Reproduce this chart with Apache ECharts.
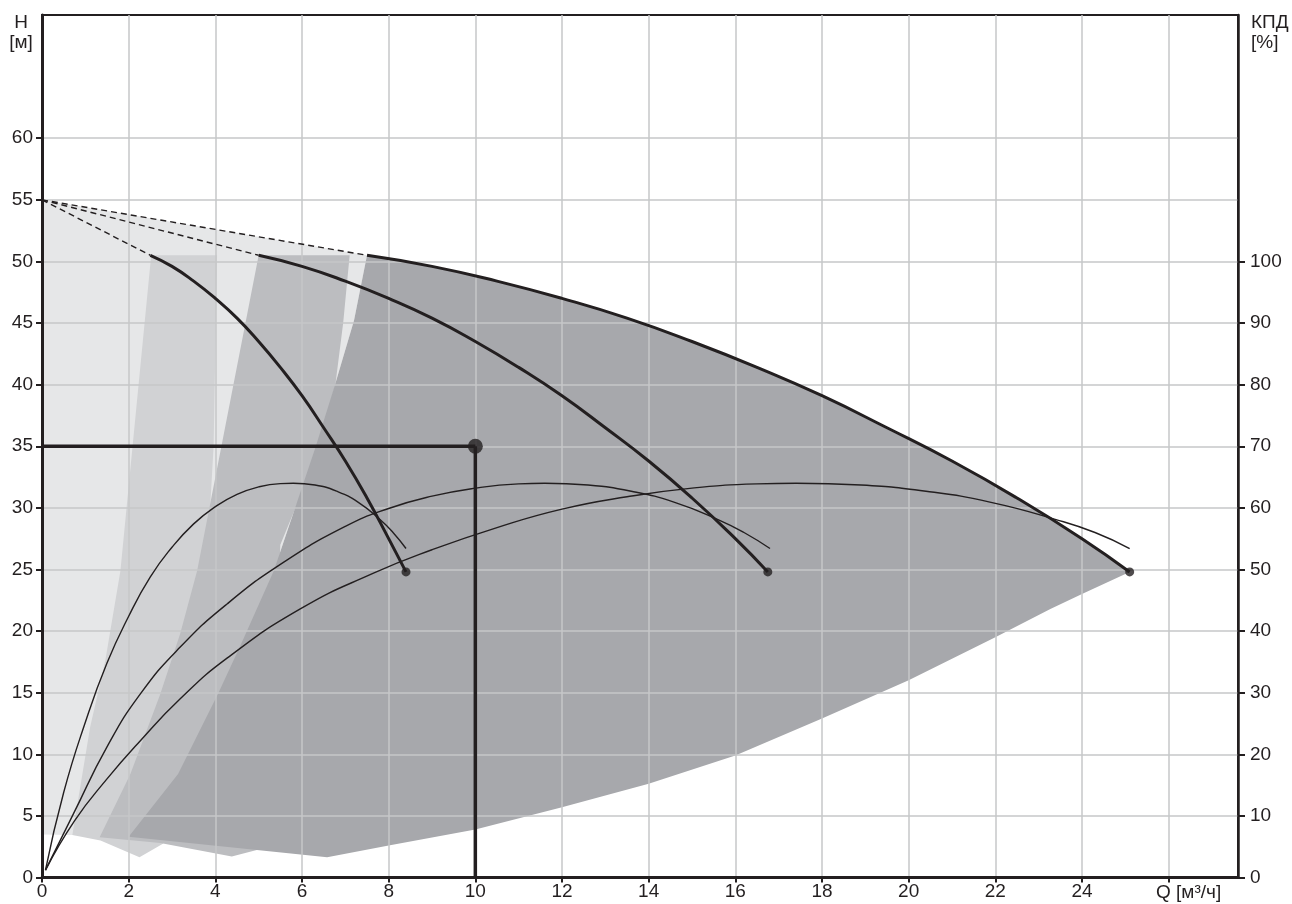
<!DOCTYPE html>
<html>
<head>
<meta charset="utf-8">
<script src="https://cdn.jsdelivr.net/npm/echarts@6/dist/echarts.min.js"></script>
<style>
  html, body { margin: 0; padding: 0; background: #fff; }
  #chart { width: 1292px; height: 904px; }
</style>
</head>
<body>
<div id="chart"></div>
<script>
var chart = echarts.init(document.getElementById('chart'));

// axis ticks
var qTicks = [0, 2, 4, 6, 8, 10, 12, 14, 16, 18, 20, 22, 24];
var qTickMarks = [0, 2, 4, 6, 8, 10, 12, 14, 16, 18, 20, 22, 24, 26];
var hTicks = [0, 5, 10, 15, 20, 25, 30, 35, 40, 45, 50, 55, 60];
var effTicks = [0, 10, 20, 30, 40, 50, 60, 70, 80, 90, 100];

// Q-H curves, 1 / 2 / 3 pumps  [Q m3/h, H m]
var qh1 = [[2.5, 50.5], [3, 49.6], [3.5, 48.4], [4, 47.0], [4.5, 45.4], [5, 43.5], [5.5, 41.4],
  [6, 39.1], [6.5, 36.5], [7, 33.8], [7.5, 30.8], [8, 27.5], [8.4, 24.8]];
var qh2 = [[5, 50.5], [6, 49.6], [7, 48.4], [8, 47.0], [9, 45.4], [10, 43.5], [11, 41.4],
  [12, 39.1], [13, 36.5], [14, 33.8], [15, 30.8], [16, 27.5], [16.75, 24.8]];
var qh3 = [[7.5, 50.5], [9, 49.6], [10.5, 48.4], [12, 47.0], [13.5, 45.4], [15, 43.5], [16.5, 41.4],
  [18, 39.1], [19.5, 36.5], [21, 33.8], [22.5, 30.8], [24, 27.5], [25.1, 24.8]];

// efficiency curves, plotted on H scale (КПД 100% = H 50)
var eta1 = [[0.08, 0.6], [0.5, 6.9], [1.0, 12.6], [1.5, 17.4], [2.0, 21.2], [2.5, 24.4], [3.0, 26.8],
  [3.5, 28.7], [4.0, 30.1], [4.5, 31.1], [5.0, 31.7], [5.5, 31.97], [5.8, 32.0], [6.3, 31.85],
  [6.8, 31.35], [7.3, 30.45], [7.8, 29.05], [8.1, 28.0], [8.4, 26.7]];
var eta2 = [[0.08, 0.6], [0.73, 5.2], [1.5, 10.6], [2.27, 14.9], [3.19, 18.7], [4.27, 22.2], [5.58, 25.6],
  [7, 28.5], [8, 29.95], [9, 30.95], [10, 31.6], [11, 31.95], [11.6, 32.0], [12.6, 31.85], [13.6, 31.35],
  [14.6, 30.45], [15.6, 29.05], [16.2, 28.0], [16.8, 26.7]];
var eta3 = [[0.08, 0.6], [0.75, 4.6], [1.5, 8.0], [2.27, 11.1], [3.19, 14.5], [4.27, 17.8], [5.96, 21.8],
  [7.65, 24.7], [9, 26.6], [10.5, 28.4], [12, 29.9], [13.5, 30.9], [15, 31.6], [16.5, 31.95],
  [17.4, 32.0], [18.9, 31.85], [20.4, 31.35], [21.9, 30.45], [23.4, 29.05], [24.3, 28.0], [25.1, 26.7]];

// dashed extensions to shut-off head
var dash1 = [[0, 55], [2.5, 50.5]];
var dash2 = [[0, 55], [5, 50.5]];
var dash3 = [[0, 55], [7.5, 50.5]];

// end points and duty point
var endPoints = [[8.4, 24.8], [16.75, 24.8], [25.1, 24.8]];
var dutyPoint = [10, 35];
var dutyH = [[0, 35], [10, 35]];
var dutyV = [[10, 35], [10, 0]];

// shaded operating areas
var areaA = [[0, 55], [7.5, 50.5], [7.2, 45.2], [6.77, 40.1], [6.31, 34.9], [5.85, 30.1], [5.35, 24.9],
  [4.6, 19], [4.06, 14.9], [3.14, 8.4], [2.0, 3.3], [0.7, 3.45], [0, 3.5]];
var areaB = [[0.7, 3.45], [1.11, 12.2], [1.46, 17.6], [1.81, 24.9], [2.52, 50.5], [4.04, 50.5], [3.96, 35],
  [3.88, 30], [3.6, 20], [3.2, 10], [2.8, 2.75], [2.25, 1.65], [1.35, 3.0]];
var areaC = [[1.33, 3.26], [2.04, 8.4], [2.73, 14.9], [3.19, 19.8], [3.58, 24.9], [5.0, 50.5], [7.1, 50.5],
  [6.95, 45], [6.77, 40], [6.2, 33], [5.5, 27], [5.2, 2.45], [4.38, 1.7], [2.73, 2.8]];
var areaDLeft = [[2.0, 3.3], [3.14, 8.4], [4.06, 14.9], [4.6, 19.0], [5.35, 24.9], [5.85, 30.1],
  [6.31, 34.9], [6.77, 40.1], [7.2, 45.2]];
var areaDBottom = [[24, 23.0], [23.27, 21.8], [22, 19.5], [20, 16.0], [18, 12.9], [16, 9.9], [14, 7.6],
  [12, 5.7], [10, 3.9], [8, 2.6], [6.58, 1.64]];
var areaD = areaDLeft.concat(qh3, areaDBottom);

var ink = '#231f20';
var gridColor = '#c6c7c9';
var font = 'Liberation Sans, Arial, sans-serif';

function area(points, color) {
  return {
    type: 'custom',
    z: 1,
    silent: true,
    data: [points[0]],
    renderItem: function (params, api) {
      return {
        type: 'polygon',
        shape: { points: points.map(function (p) { return api.coord(p); }) },
        style: { fill: color }
      };
    }
  };
}

function curve(data, width, dashed) {
  return {
    type: 'line',
    z: 5,
    data: data,
    smooth: dashed ? false : 0.5,
    showSymbol: false,
    silent: true,
    lineStyle: { color: ink, width: width, type: dashed ? [6, 4] : 'solid' }
  };
}

option = {
  animation: false,
  backgroundColor: '#fff',
  textStyle: { fontFamily: font },
  grid: {
    left: 42, right: 54, top: 15, bottom: 26.5,
    show: true, borderColor: ink, borderWidth: 2
  },
  xAxis: {
    type: 'value',
    min: 0, max: 27.6, interval: 2,
    z: 3,
    axisLine: { lineStyle: { color: ink, width: 3 } },
    axisTick: { length: 5, lineStyle: { color: ink, width: 2 }, customValues: qTickMarks },
    axisLabel: { color: ink, fontSize: 19, margin: 5, customValues: qTicks },
    splitLine: { show: true, lineStyle: { color: gridColor, width: 1.5 } }
  },
  yAxis: [{
    type: 'value',
    min: 0, max: 70, interval: 5,
    z: 3,
    axisLine: { show: true, lineStyle: { color: ink, width: 3 } },
    axisTick: { show: true, length: 6, lineStyle: { color: ink, width: 2 }, customValues: hTicks },
    axisLabel: { color: ink, fontSize: 19, margin: 9, customValues: hTicks },
    splitLine: { show: true, lineStyle: { color: gridColor, width: 1.5 } }
  }, {
    type: 'value',
    position: 'right',
    min: 0, max: 140, interval: 10,
    z: 3,
    axisLine: { show: true, lineStyle: { color: ink, width: 2.5 } },
    axisTick: { show: true, length: 7, lineStyle: { color: ink, width: 2 }, customValues: effTicks },
    axisLabel: { color: ink, fontSize: 19, margin: 12, customValues: effTicks },
    splitLine: { show: false }
  }],
  graphic: [
    { type: 'text', x: 21, y: 13, z: 10,
      style: { text: 'H\n[м]', font: '19px ' + font, fill: ink, align: 'center', verticalAlign: 'top', lineHeight: 20 } },
    { type: 'text', x: 1251, y: 13, z: 10,
      style: { text: 'КПД\n[%]', font: '19px ' + font, fill: ink, align: 'left', verticalAlign: 'top', lineHeight: 20 } },
    { type: 'text', x: 1156, y: 883, z: 10,
      style: { text: 'Q [м³/ч]', font: '19px ' + font, fill: ink, align: 'left', verticalAlign: 'top' } }
  ],
  series: [
    area(areaA, '#e6e7e8'),
    area(areaB, '#d1d2d4'),
    area(areaC, '#bcbdc0'),
    area(areaD, '#a7a8ac'),
    curve(dash1, 1.4, true),
    curve(dash2, 1.4, true),
    curve(dash3, 1.4, true),
    curve(eta1, 1.4),
    curve(eta2, 1.4),
    curve(eta3, 1.4),
    curve(qh1, 3),
    curve(qh2, 3),
    curve(qh3, 3),
    curve(dutyH, 3.5, false),
    curve(dutyV, 3.5, false),
    {
      type: 'scatter', z: 6, silent: true,
      data: endPoints, symbolSize: 9,
      itemStyle: { color: ink }
    },
    {
      type: 'scatter', z: 6, silent: true,
      data: [dutyPoint], symbolSize: 15,
      itemStyle: { color: ink }
    }
  ]
};
chart.setOption(option);
</script>
</body>
</html>
